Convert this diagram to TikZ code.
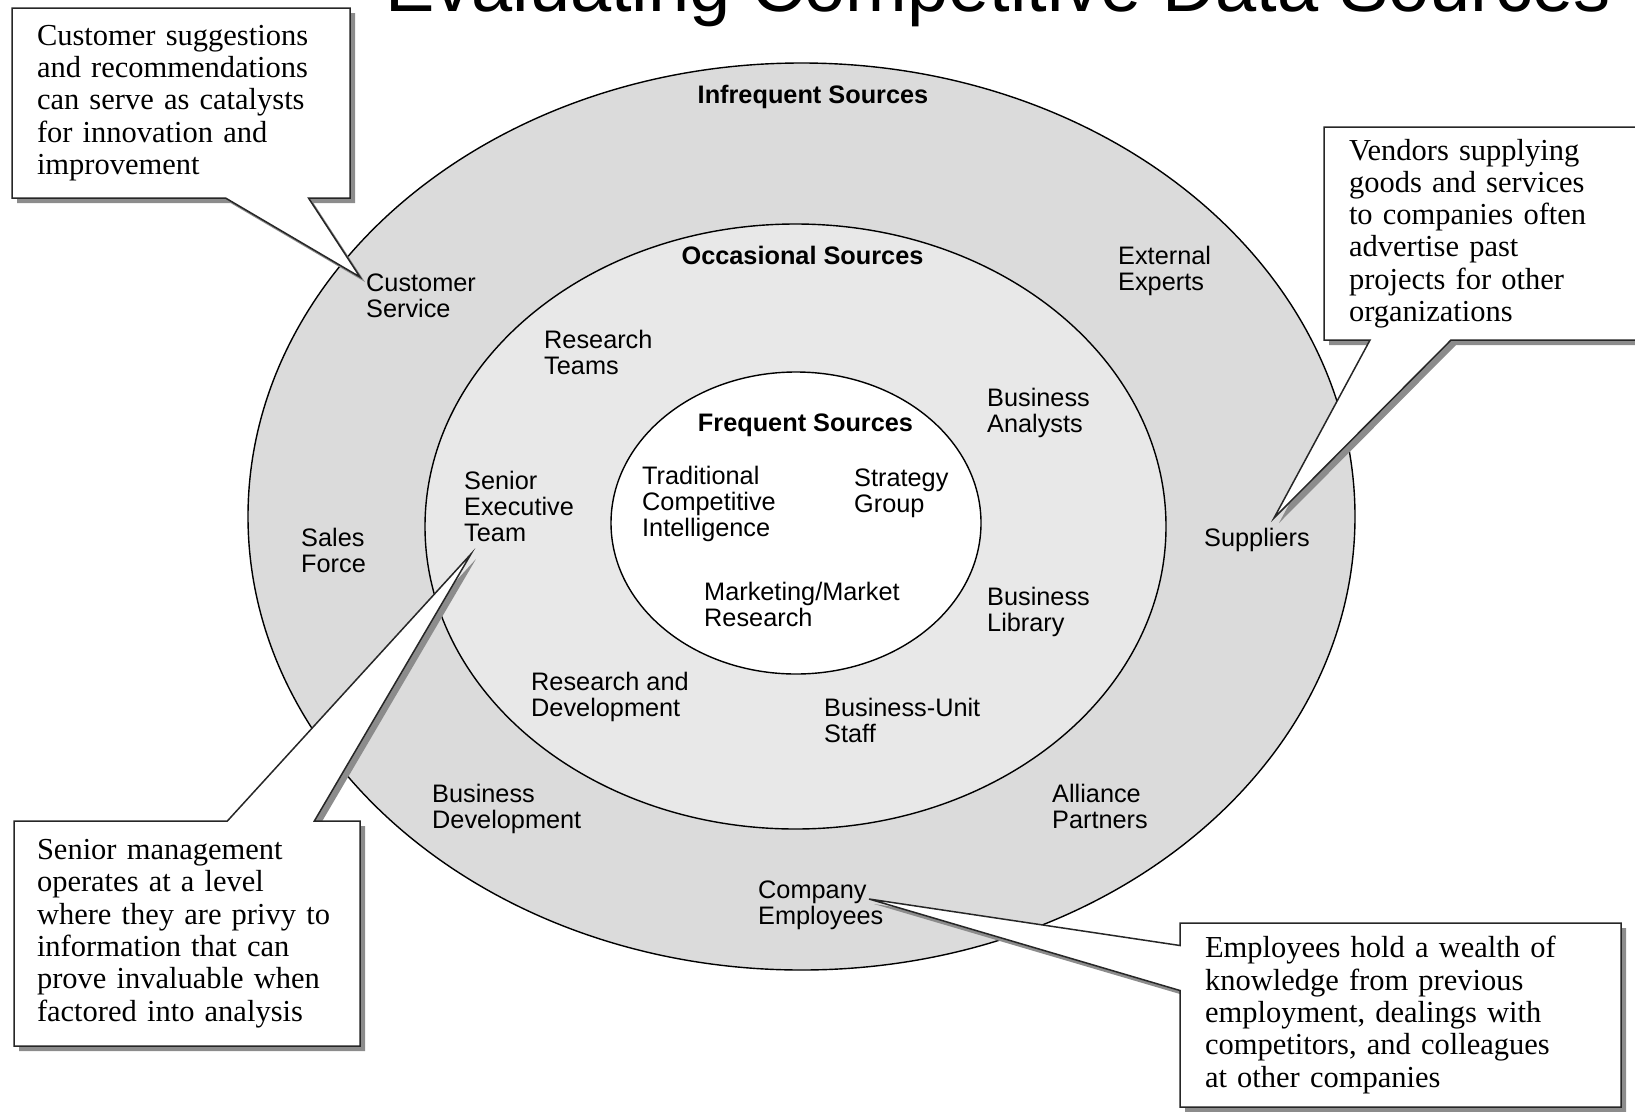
\documentclass[tikz,border=0pt]{standalone}
\usepackage{fontspec}
\setmainfont{Liberation Serif}
\setsansfont{Liberation Sans}
\usetikzlibrary{shapes.callouts,shadows}

\definecolor{outerring}{gray}{0.86}
\definecolor{midring}{gray}{0.91}

\begin{document}
\begin{tikzpicture}[x=1pt,y=-1pt]
\tikzstyle{ring} = [draw=black, line width=1.4pt]
\tikzstyle{lbl} = [anchor=north west, inner sep=0pt, align=left,
font=\sffamily\fontsize{25.3}{26}\selectfont]
\tikzstyle{hdr} = [anchor=base, inner sep=0pt,
font=\sffamily\bfseries\fontsize{25.3}{26}\selectfont]
\tikzstyle{note} = [rectangle callout, draw=black!85, line width=1.5pt, fill=white,
anchor=north west, outer sep=0pt, inner xsep=25pt, inner ysep=4pt, align=left,
font=\rmfamily\fontsize{30.5}{32.3}\selectfont,
drop shadow={shadow xshift=5pt, shadow yshift=-5pt, fill=black!45, opacity=1}]

\useasboundingbox (0,0) rectangle (1635,1111);
\clip (0,0) rectangle (1635,1111);

% title runs off the top edge
\node[anchor=base west, inner sep=0pt, font=\sffamily\fontsize{74}{80}\selectfont]
(title) at (385,11) {Evaluating Competitive Data Sources};

% the three rings
\path[ring, fill=outerring] (801.5,516.5) ellipse [x radius=553.5pt, y radius=453.5pt];
\path[ring, fill=midring] (795.5,526.5) ellipse [x radius=370.5pt, y radius=302.5pt];
\path[ring, fill=white] (796,523) ellipse [x radius=185pt, y radius=151pt];

\node[hdr] (infreq) at (813,103) {Infrequent Sources};
\node[hdr] (occas) at (802.5,264) {Occasional Sources};
\node[hdr] (freq) at (805.5,431) {Frequent Sources};

% outer ring
\node[lbl] (custserv) at (366,274) {Customer\\Service};
\node[lbl] (experts) at (1118,246) {External\\Experts};
\node[lbl] (sales) at (301,528) {Sales\\Force};
\node[lbl] (suppliers) at (1204,528) {Suppliers};
\node[lbl] (busdev) at (432,784) {Business\\Development};
\node[lbl] (alliance) at (1052,784) {Alliance\\Partners};
\node[lbl] (employees) at (758,881) {Company\\Employees};
% middle ring
\node[lbl] (resteams) at (544,330) {Research\\Teams};
\node[lbl] (analysts) at (987,388) {Business\\Analysts};
\node[lbl] (senior) at (464,471) {Senior\\Executive\\Team};
\node[lbl] (library) at (987,587) {Business\\Library};
\node[lbl] (randd) at (531,672) {Research and\\Development};
\node[lbl] (bizunit) at (824,698) {Business-Unit\\Staff};
% centre
\node[lbl] (tradci) at (642,466) {Traditional\\Competitive\\Intelligence};
\node[lbl] (strategy) at (854,469) {Strategy\\Group};
\node[lbl] (marketing) at (704,582) {Marketing/Market\\Research};

% callouts
\node[note, text width=288pt, minimum width=338pt, minimum height=190pt,
callout pointer width=83pt,
callout absolute pointer={([shift={(-6,3)}]custserv.north west)}]
(custnote) at (12,8)
{Customer suggestions\\ and recommendations\\ can serve as catalysts\\ for innovation and\\ improvement};

\node[note, text width=286pt, minimum width=336pt, minimum height=213pt,
callout pointer width=81pt,
callout absolute pointer={([shift={(70,-10)}]suppliers.north west)}]
(vendnote) at (1324,127)
{Vendors supplying\\ goods and services\\ to companies often\\ advertise past\\ projects for other\\ organizations};

\node[note, inner xsep=23pt, text width=300pt, minimum width=346pt, minimum height=225pt,
callout pointer width=87pt,
callout absolute pointer={([shift={(7,12)}]senior.south west)}]
(mgmtnote) at (14,821)
{Senior management\\ operates at a level\\ where they are privy to\\ information that can\\ prove invaluable when\\ factored into analysis};

\node[note, text width=391pt, minimum width=441pt, minimum height=184pt,
callout pointer width=45pt,
callout absolute pointer={([shift={(111,18)}]employees.north west)}]
(empnote) at (1180,923)
{Employees hold a wealth of\\ knowledge from previous\\ employment, dealings with\\ competitors, and colleagues\\ at other companies};

\end{tikzpicture}
\end{document}
